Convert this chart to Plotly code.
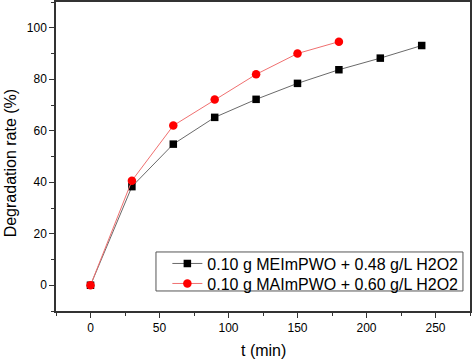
import plotly.graph_objects as go

t_black = [0, 30, 60, 90, 120, 150, 180, 210, 240]
rate_black = [0, 38.3, 54.8, 65.2, 72.2, 78.4, 83.7, 88.2, 93.1]
t_red = [0, 30, 60, 90, 120, 150, 180]
rate_red = [0, 40.6, 62.0, 72.1, 81.9, 90.0, 94.6]
name_black = "0.10 g MEImPWO + 0.48 g/L H2O2"
name_red = "0.10 g MAImPWO + 0.60 g/L H2O2"

font = "Liberation Sans, Arial, sans-serif"
fig = go.Figure()
fig.add_trace(go.Scatter(x=t_black, y=rate_black, name=name_black, mode="lines+markers",
                         line=dict(color="#6a6a6a", width=1),
                         marker=dict(symbol="square", size=7.5, color="black"),
                         legend="legend"))
fig.add_trace(go.Scatter(x=t_red, y=rate_red, name=name_red, mode="lines+markers",
                         line=dict(color="#f07070", width=1),
                         marker=dict(symbol="circle", size=8.5, color="red"),
                         legend="legend2"))

axis_common = dict(showline=True, linecolor="#333333", linewidth=1.5, mirror=True,
                   ticks="outside", ticklen=5, tickwidth=1.2, tickcolor="#333333",
                   showgrid=False, zeroline=False, automargin=False,
                   tickfont=dict(family=font, size=12, color="black"))
leg_common = dict(xanchor="left", yanchor="middle", borderwidth=0,
                  bgcolor="rgba(0,0,0,0)", font=dict(family=font, size=16))
fig.update_layout(
    width=472, height=361, plot_bgcolor="white", paper_bgcolor="white",
    margin=dict(l=56, r=2, t=2, b=50, autoexpand=False),
    font=dict(family=font, color="black"),
    showlegend=True,
    xaxis=dict(range=[-25, 275], tickvals=[0, 50, 100, 150, 200, 250],
               minor=dict(ticks="outside", ticklen=3, tickcolor="#333333", dtick=25, tick0=0),
               **axis_common),
    yaxis=dict(range=[-10, 110], tickvals=[0, 20, 40, 60, 80, 100],
               minor=dict(ticks="outside", ticklen=3, tickcolor="#333333", dtick=10, tick0=0),
               **axis_common),
    legend=dict(x=0.269, y=0.1535, **leg_common),
    legend2=dict(x=0.269, y=0.0888, **leg_common),
    shapes=[dict(type="rect", xref="paper", yref="paper", x0=0.2415, x1=0.983,
                 y0=0.0648, y1=0.191, line=dict(color="#555555", width=1))],
    annotations=[
        dict(text="t (min)", xref="paper", yref="paper", x=0.5, y=-0.127,
             xanchor="center", yanchor="middle", showarrow=False,
             font=dict(family=font, size=16, color="black")),
        dict(text="Degradation rate (%)", xref="paper", yref="paper", x=-0.111, y=0.478,
             xanchor="center", yanchor="middle", showarrow=False, textangle=-90,
             font=dict(family=font, size=16, color="black")),
    ],
)
fig.write_html("out.html", post_script="document.body.style.margin='0';",
               config={"displayModeBar": False})
